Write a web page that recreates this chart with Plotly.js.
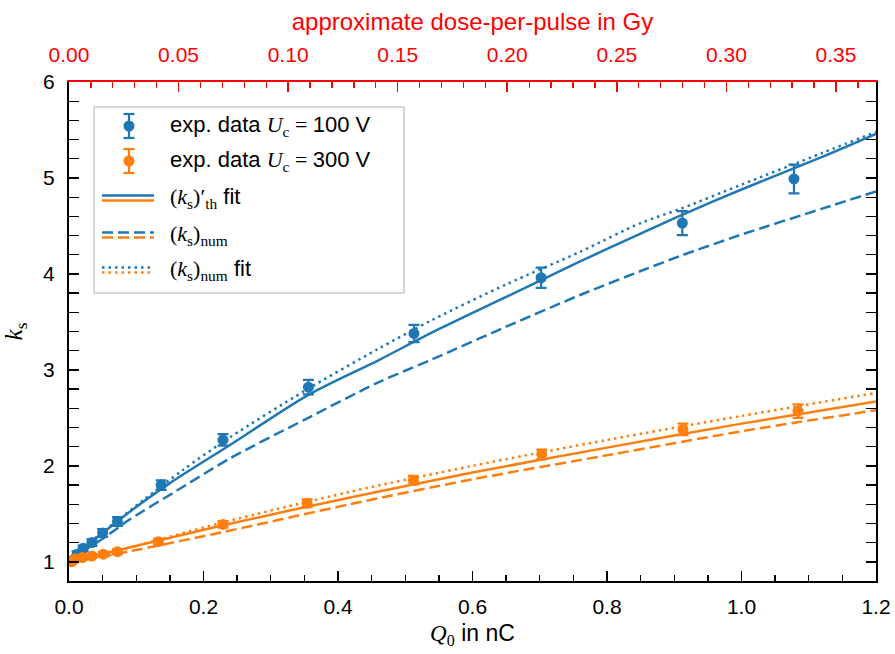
<!DOCTYPE html>
<html>
<head>
<meta charset="utf-8">
<script src="https://cdn.plot.ly/plotly-3.0.1.min.js"></script>
<style>html,body{margin:0;padding:0;background:#fff;}</style>
</head>
<body>
<div id="chart" style="width:895px;height:654px;"></div>
<script>
// ---------- data ----------
const qBlue   = [0.012, 0.021, 0.034, 0.050, 0.072, 0.137, 0.229, 0.356, 0.513, 0.702, 0.912, 1.078];
const kBlue   = [1.08, 1.14, 1.20, 1.30, 1.42, 1.80, 2.27, 2.82, 3.38, 3.96, 4.53, 4.99];
const errBlue = [0.03, 0.03, 0.035, 0.04, 0.045, 0.05, 0.06, 0.075, 0.09, 0.105, 0.125, 0.15];

const qOrange   = [0.004, 0.009, 0.020, 0.034, 0.051, 0.072, 0.133, 0.229, 0.354, 0.512, 0.703, 0.913, 1.084];
const kOrange   = [1.00, 1.03, 1.045, 1.06, 1.08, 1.105, 1.21, 1.39, 1.61, 1.85, 2.12, 2.38, 2.57];
const errOrange = [0.02, 0.02, 0.02, 0.02, 0.025, 0.025, 0.03, 0.035, 0.04, 0.045, 0.05, 0.06, 0.07];

const qThBlue = [0, 0.02, 0.05, 0.09, 0.15, 0.24, 0.356, 0.46, 0.54, 0.65, 0.76, 0.85, 0.91, 1.0, 1.12, 1.2];
const kThBlue = [1.04, 1.14, 1.30, 1.52, 1.82, 2.22, 2.74, 3.10, 3.39, 3.76, 4.13, 4.42, 4.61, 4.88, 5.22, 5.46];

const qNumFitBlue = [0, 0.02, 0.05, 0.11, 0.17, 0.24, 0.35, 0.46, 0.54, 0.65, 0.76, 0.85, 0.91, 1.0, 1.12, 1.2];
const kNumFitBlue = [1.04, 1.14, 1.31, 1.64, 1.96, 2.30, 2.78, 3.22, 3.52, 3.89, 4.23, 4.53, 4.68, 4.93, 5.26, 5.48];

const qNumBlue = [0, 0.05, 0.09, 0.16, 0.24, 0.35, 0.46, 0.54, 0.65, 0.76, 0.85, 0.91, 1.0, 1.12, 1.2];
const kNumBlue = [1.02, 1.24, 1.44, 1.74, 2.08, 2.48, 2.87, 3.11, 3.45, 3.78, 4.03, 4.19, 4.41, 4.68, 4.86];

const qThOrange = [0, 0.09, 0.229, 0.418, 0.6, 0.8, 1.0, 1.2];
const kThOrange = [1.00, 1.15, 1.38, 1.67, 1.93, 2.19, 2.44, 2.67];

const qNumFitOrange = [0, 0.09, 0.229, 0.418, 0.6, 0.8, 1.0, 1.2];
const kNumFitOrange = [1.00, 1.15, 1.41, 1.73, 2.00, 2.27, 2.52, 2.76];

const qNumOrange = [0, 0.09, 0.229, 0.418, 0.6, 0.8, 1.0, 1.2];
const kNumOrange = [0.99, 1.11, 1.31, 1.60, 1.86, 2.11, 2.36, 2.58];

const xTickVals = [0, 0.2, 0.4, 0.6, 0.8, 1.0, 1.2];
const topTickVals = [0, 0.05, 0.10, 0.15, 0.20, 0.25, 0.30, 0.35];
const doseFactor = 0.3069;   // Gy per nC (approx.)

const SERIF = 'Liberation Serif';
const legendLabels = [
  'exp. data <span style="font-family:' + SERIF + '"><i>U</i><sub>c</sub> = </span>100 V',
  'exp. data <span style="font-family:' + SERIF + '"><i>U</i><sub>c</sub> = </span>300 V',
  '<span style="font-family:' + SERIF + '">(<i>k</i><sub>s</sub>)′<sub>th</sub></span> fit',
  '<span style="font-family:' + SERIF + '">(<i>k</i><sub>s</sub>)<sub>num</sub></span>',
  '<span style="font-family:' + SERIF + '">(<i>k</i><sub>s</sub>)<sub>num</sub></span> fit'
];

// ---------- styling ----------
const BLUE = '#1f77b4', ORANGE = '#ff7f0e', RED = '#ff0000';
const SANS = 'Liberation Sans, Arial, sans-serif';
const LW = 2.5;
const DASH = '11px,5px';
const DOT = '2.5px,4px';
const TICKFS = 21;

const M = {l: 69, r: 19, t: 82, b: 73};
const PW = 895 - M.l - M.r, PH = 654 - M.t - M.b;
const px2x = p => (p - M.l) / PW;
const px2y = p => (654 - M.b - p) / PH;

function line(q, k, color, dash, name) {
  return {x: q, y: k, type: 'scatter', mode: 'lines', name: name, showlegend: false,
          line: {color: color, width: LW, dash: dash, shape: 'spline', smoothing: 0.8}, hoverinfo: 'skip'};
}
function pts(q, k, e, color, name) {
  return {x: q, y: k, type: 'scatter', mode: 'markers', name: name, showlegend: false,
          marker: {color: color, size: 11},
          error_y: {type: 'data', array: e, visible: true, color: color, thickness: 2.2, width: 5.5}};
}

const traces = [
  line(qNumBlue, kNumBlue, BLUE, DASH, 'num blue'),
  line(qNumOrange, kNumOrange, ORANGE, DASH, 'num orange'),
  line(qNumFitBlue, kNumFitBlue, BLUE, DOT, 'num fit blue'),
  line(qNumFitOrange, kNumFitOrange, ORANGE, DOT, 'num fit orange'),
  line(qThBlue, kThBlue, BLUE, 'solid', 'th blue'),
  line(qThOrange, kThOrange, ORANGE, 'solid', 'th orange'),
  pts(qBlue, kBlue, errBlue, BLUE, 'exp 100 V'),
  pts(qOrange, kOrange, errOrange, ORANGE, 'exp 300 V'),
  {x: [0, 1.2 * doseFactor], y: [1, 1], xaxis: 'x2', yaxis: 'y', mode: 'none', type: 'scatter',
   showlegend: false, hoverinfo: 'skip'}
];

// ---------- hand-made legend ----------
const shapes = [];
const annotations = [];
shapes.push({type: 'rect', xref: 'paper', yref: 'paper',
  x0: px2x(94), x1: px2x(404), y0: px2y(293), y1: px2y(107),
  line: {color: '#cccccc', width: 1.5}, fillcolor: 'rgba(255,255,255,0.85)', layer: 'above'});
const rowsY = [126, 161, 198, 235, 270];
[[BLUE, rowsY[0]], [ORANGE, rowsY[1]]].forEach(([c, y]) => {
  shapes.push({type: 'line', xref: 'paper', yref: 'paper', x0: px2x(129), x1: px2x(129),
    y0: px2y(y - 12), y1: px2y(y + 12), line: {color: c, width: 2.2}, layer: 'above'});
  [y - 12, y + 12].forEach(yy => shapes.push({type: 'line', xref: 'paper', yref: 'paper',
    x0: px2x(123.5), x1: px2x(134.5), y0: px2y(yy), y1: px2y(yy), line: {color: c, width: 2.2}, layer: 'above'}));
  shapes.push({type: 'circle', xref: 'paper', yref: 'paper', x0: px2x(123.5), x1: px2x(134.5),
    y0: px2y(y + 5.5), y1: px2y(y - 5.5), fillcolor: c, line: {color: c, width: 0}, layer: 'above'});
});
[['solid', rowsY[2]], [DASH, rowsY[3]], [DOT, rowsY[4]]].forEach(([d, y]) => {
  shapes.push({type: 'line', xref: 'paper', yref: 'paper', x0: px2x(102), x1: px2x(154),
    y0: px2y(y - 2.6), y1: px2y(y - 2.6), line: {color: BLUE, width: LW, dash: d}, layer: 'above'});
  shapes.push({type: 'line', xref: 'paper', yref: 'paper', x0: px2x(102), x1: px2x(154),
    y0: px2y(y + 2.6), y1: px2y(y + 2.6), line: {color: ORANGE, width: LW, dash: d}, layer: 'above'});
});
legendLabels.forEach((t, i) => annotations.push({
  xref: 'paper', yref: 'paper', x: px2x(168), y: px2y(rowsY[i]), xanchor: 'left', yanchor: 'middle',
  text: t, showarrow: false, font: {family: SANS, size: 22, color: '#000'}
}));

const layout = {
  width: 895, height: 654,
  margin: M,
  paper_bgcolor: '#fff', plot_bgcolor: '#fff',
  font: {family: SANS, size: TICKFS, color: '#000'},
  showlegend: false,
  xaxis: {
    range: [0, 1.2], tickvals: xTickVals, ticktext: xTickVals.map(v => v.toFixed(1)),
    ticks: 'inside', ticklen: 10, tickwidth: 1.6, tickcolor: '#000',
    showline: true, linecolor: '#000', linewidth: 2.2, mirror: false,
    showgrid: false, zeroline: false, ticklabelstandoff: 6,
    tickfont: {family: SANS, size: TICKFS},
    minor: {dtick: 0.05, tick0: 0, ticks: 'inside', ticklen: 6, tickwidth: 1.3, tickcolor: '#000', showgrid: false},
    title: {text: '<span style="font-family:' + SERIF + '"><i>Q</i><sub>0</sub></span> in nC',
            font: {family: SANS, size: 23}, standoff: 8}
  },
  xaxis2: {
    overlaying: 'x', side: 'top', range: [0, 1.2 * doseFactor],
    tickvals: topTickVals, ticktext: topTickVals.map(v => v.toFixed(2)),
    ticks: 'inside', ticklen: 10, tickwidth: 1.6, tickcolor: RED,
    showline: true, linecolor: RED, linewidth: 2.2,
    showgrid: false, zeroline: false, ticklabelstandoff: 9,
    tickfont: {family: SANS, size: TICKFS, color: RED},
    minor: {dtick: 0.01, tick0: 0, ticks: 'inside', ticklen: 6, tickwidth: 1.3, tickcolor: RED, showgrid: false},
    title: {text: 'approximate dose-per-pulse in Gy', font: {family: SANS, size: 24, color: RED}, standoff: 6}
  },
  yaxis: {
    range: [0.8, 6], dtick: 1, tick0: 0,
    ticks: 'inside', ticklen: 10, tickwidth: 1.6, tickcolor: '#000',
    showline: true, linecolor: '#000', linewidth: 2.2, mirror: 'allticks',
    showgrid: false, zeroline: false, ticklabelstandoff: 8,
    tickfont: {family: SANS, size: TICKFS},
    minor: {dtick: 0.2, tick0: 0, ticks: 'inside', ticklen: 6, tickwidth: 1.3, tickcolor: '#000', showgrid: false},
    title: {text: '<span style="font-family:' + SERIF + '"><i>k</i><sub>s</sub></span>',
            font: {family: SANS, size: 25}, standoff: 14}
  },
  shapes: shapes,
  annotations: annotations
};

Plotly.newPlot('chart', traces, layout, {staticPlot: true, displayModeBar: false});
</script>
</body>
</html>
